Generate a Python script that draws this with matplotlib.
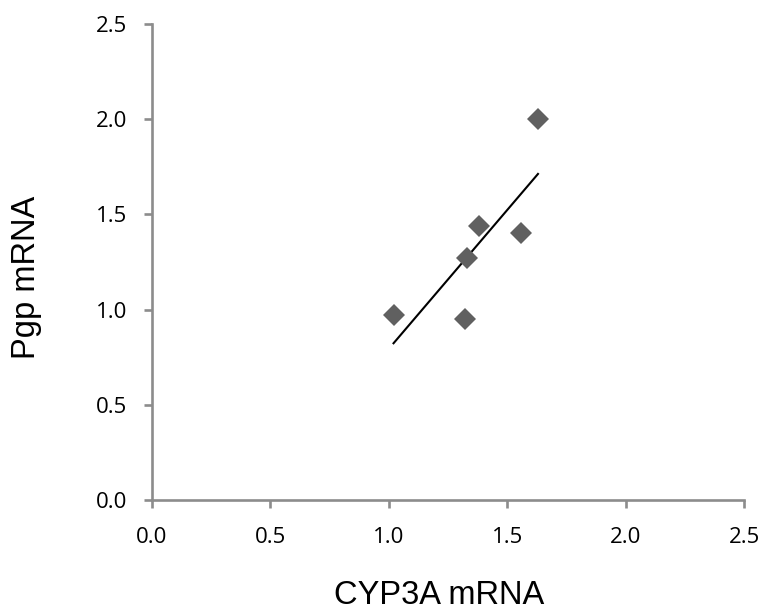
import numpy as np
import matplotlib.pyplot as plt

# data
cyp3a = [1.02, 1.32, 1.33, 1.38, 1.56, 1.63]
pgp = [0.97, 0.95, 1.27, 1.44, 1.40, 2.00]
ticks = [0.0, 0.5, 1.0, 1.5, 2.0, 2.5]

AXIS = '#8c8c8c'
TICK_FONT = 'Open Sans'
LABEL_FONT = 'Liberation Sans'

fig = plt.figure(figsize=(7.6, 6.15), dpi=100)
# axes box in figure fractions: x 152..744 px, y 24..500 px
ax = fig.add_axes([152/760, 115/615, 592/760, 476/615])

ax.plot(cyp3a, pgp, linestyle='none', marker='D', ms=11, mew=0,
        color='#606060', zorder=3)

# linear trendline over the data range
slope, icpt = np.polyfit(cyp3a, pgp, 1)
xs = np.array([min(cyp3a), max(cyp3a)])
ax.plot(xs, slope * xs + icpt, color='black', lw=1.5, zorder=2)

ax.set_xlim(0, 2.5)
ax.set_ylim(0, 2.5)
ax.set_xticks(ticks)
ax.set_yticks(ticks)
ax.set_xticklabels([f'{t:.1f}' for t in ticks], family=TICK_FONT, fontsize=16)
ax.set_yticklabels([f'{t:.1f}' for t in ticks], family=TICK_FONT, fontsize=16)

for s in ['top', 'right']:
    ax.spines[s].set_visible(False)
for s in ['left', 'bottom']:
    ax.spines[s].set_color(AXIS)
    ax.spines[s].set_linewidth(1.9)
ax.tick_params(direction='out', length=5.5, width=1.9, color=AXIS,
               labelcolor='black')
ax.tick_params(axis='x', pad=14)
ax.tick_params(axis='y', pad=12.5)

ax.set_xlabel('CYP3A mRNA', family=LABEL_FONT, fontsize=23.5)
ax.set_ylabel('Pgp mRNA', family=LABEL_FONT, fontsize=23.5)
ax.xaxis.set_label_coords(0.485, -0.168)
ax.yaxis.set_label_coords(-0.185, 0.468)

fig.savefig('out.png', dpi=100)
